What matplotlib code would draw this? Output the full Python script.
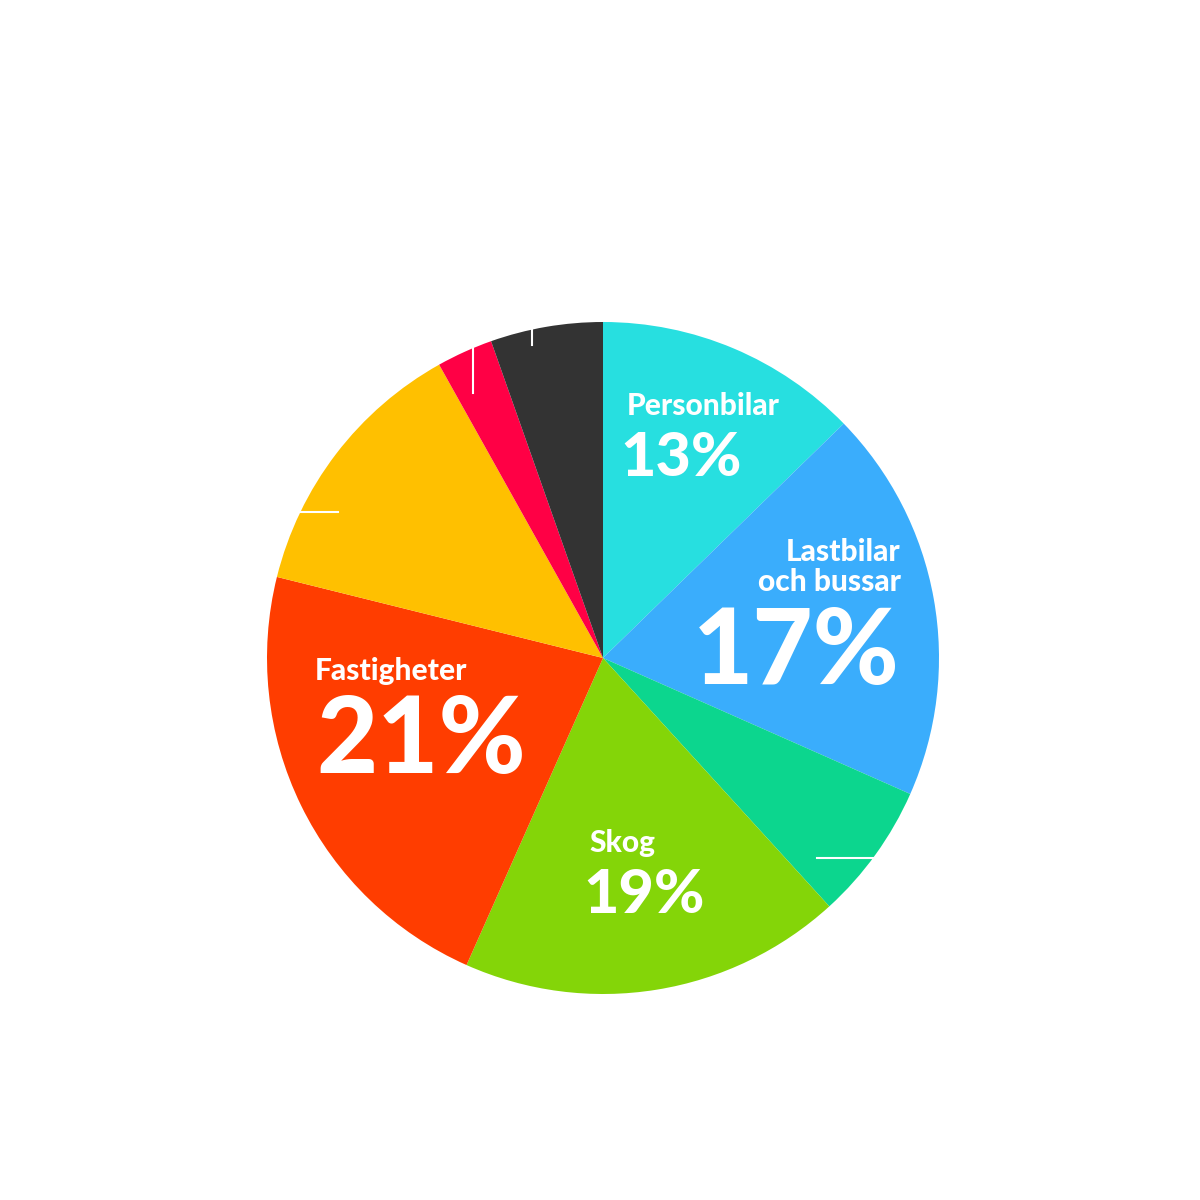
import matplotlib.pyplot as plt
import numpy as np

# slice shares (clockwise from 12 o'clock)
sectors = ['Personbilar', 'Lastbilar och bussar', 'Övrigt 1', 'Skog',
           'Fastigheter', 'Övrigt 2', 'Övrigt 3', 'Övrigt 4']
shares = [12.7, 18.9, 6.6, 18.4, 22.2, 13.0, 2.7, 5.4]
colors = ['#27DFE0', '#3AADFC', '#0CD68E', '#84D508',
          '#FF3D00', '#FFC000', '#FF0045', '#333333']

# printed labels
label_names = ['Personbilar', 'Lastbilar\noch bussar', 'Fastigheter', 'Skog']
label_pcts = ['13%', '17%', '21%', '19%']

H = 1200
def py(y):
    return H - y

fig = plt.figure(figsize=(12, 12), dpi=100)
ax = fig.add_axes([0, 0, 1, 1])

cx, cy, r = 603, 658, 336
ax.pie(shares, colors=colors, startangle=90, counterclock=False,
       center=(cx, py(cy)), radius=r, frame=True,
       wedgeprops=dict(linewidth=0))
ax.set_xlim(0, 1200)
ax.set_ylim(0, 1200)
ax.set_aspect('equal')
ax.axis('off')

FONT = 'Lato'
W = 'black'
SMALL = 21.5

# small names
ax.text(627, py(406), label_names[0], color='white', fontsize=SMALL, family=FONT,
        weight=W, ha='left', va='center')
ax.text(901, py(567), label_names[1], color='white', fontsize=SMALL, family=FONT,
        weight=W, ha='right', va='center', linespacing=1.1)
ax.text(315, py(671), label_names[2], color='white', fontsize=SMALL, family=FONT,
        weight=W, ha='left', va='center')
ax.text(589, py(843), label_names[3], color='white', fontsize=SMALL, family=FONT,
        weight=W, ha='left', va='center')

# big percentages
ax.text(620, py(476), label_pcts[0], color='white', fontsize=44, family=FONT,
        weight=W, ha='left', va='baseline')
ax.text(900, py(684), label_pcts[1], color='white', fontsize=75, family=FONT,
        weight=W, ha='right', va='baseline')
ax.text(316, py(773), label_pcts[2], color='white', fontsize=76, family=FONT,
        weight=W, ha='left', va='baseline')
ax.text(583, py(913), label_pcts[3], color='white', fontsize=44, family=FONT,
        weight=W, ha='left', va='baseline')

# white leader ticks
ax.plot([300, 338], [py(512), py(512)], color='white', lw=1.5)
ax.plot([817, 873], [py(858), py(858)], color='white', lw=1.5)
ax.plot([473, 473], [py(348), py(393)], color='white', lw=1.5)
ax.plot([532, 532], [py(329), py(345)], color='white', lw=1.5)

fig.savefig('out.png', dpi=100, facecolor='white')
